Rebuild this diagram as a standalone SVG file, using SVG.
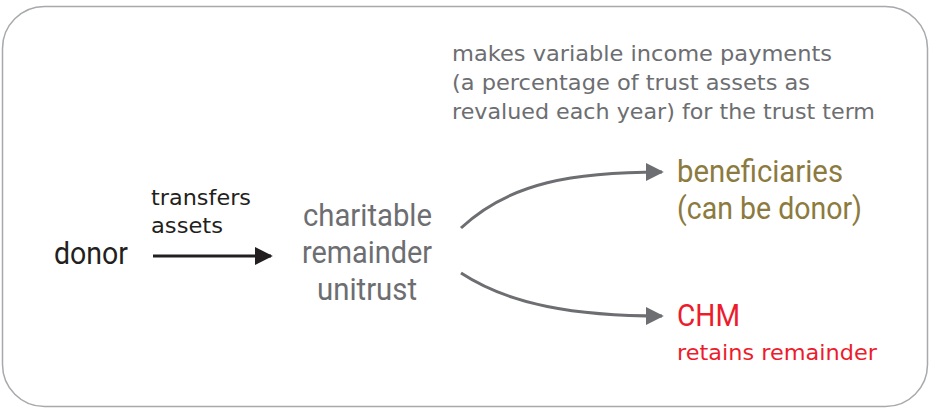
<svg xmlns="http://www.w3.org/2000/svg" width="930" height="409" viewBox="0 0 930 409">
<style>
.cond{font-family:Roboto,"Liberation Sans",sans-serif;font-size:30.5px}
.body{font-family:"DejaVu Sans","Open Sans",sans-serif;font-size:20.5px}
.grey{fill:#6d6e71}
.dark{fill:#231f20}
.gold{fill:#8c7a3e}
.red{fill:#ec1c2c}
</style>
<defs>
<marker id="ah" viewBox="0 0 10 10" refX="9" refY="5" markerWidth="6" markerHeight="6" markerUnits="strokeWidth" orient="auto">
<path d="M0,0 L10,5 L0,10 z" fill="#6d6e71"/>
</marker>
<marker id="ahb" viewBox="0 0 10 10" refX="9" refY="5" markerWidth="6" markerHeight="6" markerUnits="strokeWidth" orient="auto">
<path d="M0,0 L10,5 L0,10 z" fill="#231f20"/>
</marker>
</defs>
<rect x="2.5" y="6.5" width="925" height="400" rx="42" fill="#fff" stroke="#a7a9ac" stroke-width="1.5"/>
<g id="note">
<text class="body grey" x="452" y="61" textLength="380" lengthAdjust="spacingAndGlyphs">makes variable income payments</text>
<text class="body grey" x="452" y="90" textLength="358" lengthAdjust="spacingAndGlyphs">(a percentage of trust assets as</text>
<text class="body grey" x="452" y="119" textLength="423" lengthAdjust="spacingAndGlyphs">revalued each year) for the trust term</text>
</g>
<g id="donor"><text class="cond dark" x="54" y="264" textLength="74" lengthAdjust="spacingAndGlyphs">donor</text></g>
<g id="transfer-label">
<text class="body dark" x="151" y="205" textLength="100" lengthAdjust="spacingAndGlyphs">transfers</text>
<text class="body dark" x="151" y="233" textLength="72" lengthAdjust="spacingAndGlyphs">assets</text>
</g>
<g id="crut">
<text class="cond grey" x="303" y="226" textLength="129" lengthAdjust="spacingAndGlyphs">charitable</text>
<text class="cond grey" x="302" y="263" textLength="130" lengthAdjust="spacingAndGlyphs">remainder</text>
<text class="cond grey" x="317" y="300" textLength="100" lengthAdjust="spacingAndGlyphs">unitrust</text>
</g>
<g id="beneficiaries">
<text class="cond gold" x="677" y="182" textLength="166" lengthAdjust="spacingAndGlyphs">beneficiaries</text>
<text class="cond gold" x="677" y="219" textLength="185" lengthAdjust="spacingAndGlyphs">(can be donor)</text>
</g>
<g id="chm">
<text class="cond red" x="677" y="326" textLength="63" lengthAdjust="spacingAndGlyphs">CHM</text>
<text class="body red" x="677" y="360" textLength="200" lengthAdjust="spacingAndGlyphs">retains remainder</text>
</g>
<g id="connectors" fill="none" stroke-width="3">
<path d="M153,256 L271,256" stroke="#231f20" marker-end="url(#ahb)"/>
<path d="M461,228 C510,182 575,172 662,172" stroke="#6d6e71" marker-end="url(#ah)"/>
<path d="M461,273 C510,305 575,316 662,316" stroke="#6d6e71" marker-end="url(#ah)"/>
</g>
</svg>
